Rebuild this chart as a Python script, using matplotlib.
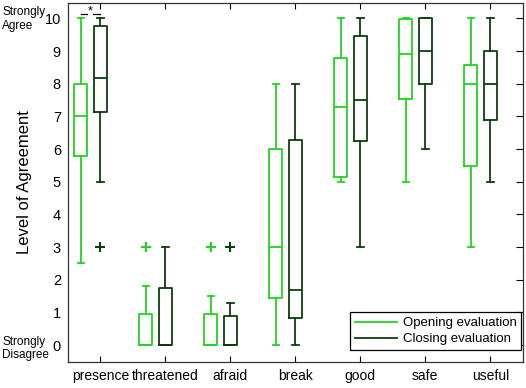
import matplotlib
matplotlib.use("Agg")
import matplotlib.pyplot as plt
from matplotlib.lines import Line2D

plt.rcParams['font.family'] = ['Liberation Sans', 'DejaVu Sans']

categories = ["presence", "threatened", "afraid", "break", "good", "safe", "useful"]

# Opening evaluation statistics
open_whislo = [2.5, 0, 0, 0, 5.0, 5.0, 3.0]
open_q1     = [5.78, 0, 0, 1.44, 5.13, 7.54, 5.48]
open_med    = [7.0, 0, 0, 3.0, 7.29, 8.9, 8.0]
open_q3     = [8.0, 0.95, 0.95, 6.0, 8.79, 9.97, 8.56]
open_whishi = [10, 1.8, 1.5, 8.0, 10, 10, 10]
open_fliers = [[], [3], [3], [], [], [], []]

# Closing evaluation statistics
close_whislo = [5.0, 0, 0, 0, 3.0, 6.0, 5.0]
close_q1     = [7.13, 0, 0, 0.83, 6.24, 8.0, 6.9]
close_med    = [8.19, 0, 0, 1.7, 7.5, 9.0, 8.0]
close_q3     = [9.77, 1.75, 0.88, 6.27, 9.47, 10, 9.0]
close_whishi = [10, 3.0, 1.3, 8.0, 10, 10, 10]
close_fliers = [[3], [], [3], [], [], [], []]

yticks = list(range(0, 11))
legend_labels = ["Opening evaluation", "Closing evaluation"]

c_open = "#22d322"
c_close = "#0d3f0d"

def make_stats(lo, q1, med, q3, hi, fl):
    return [dict(whislo=a, q1=b, med=c, q3=d, whishi=e, fliers=f)
            for a, b, c, d, e, f in zip(lo, q1, med, q3, hi, fl)]

fig = plt.figure(figsize=(5.26, 3.88), dpi=100)
ax = fig.add_axes([0.129, 0.067, 0.865, 0.925])

n = len(categories)
pos_close = [i + 1 for i in range(n)]
pos_open = [p - 0.3 for p in pos_close]

for stats, pos, col in [
    (make_stats(open_whislo, open_q1, open_med, open_q3, open_whishi, open_fliers), pos_open, c_open),
    (make_stats(close_whislo, close_q1, close_med, close_q3, close_whishi, close_fliers), pos_close, c_close),
]:
    ax.bxp(stats, positions=pos, widths=0.2, capwidths=0.1, showfliers=True,
           manage_ticks=False,
           boxprops=dict(color=col, linewidth=1.3),
           medianprops=dict(color=col, linewidth=1.3),
           whiskerprops=dict(color=col, linewidth=1.3),
           capprops=dict(color=col, linewidth=1.3),
           flierprops=dict(marker='+', markeredgecolor=col, markersize=7,
                           markeredgewidth=1.5, linestyle='none'))

# significance marker
ax.plot([pos_open[0], pos_close[0]], [10.13, 10.13], color='black', lw=0.9)
ax.text((pos_open[0] + pos_close[0]) / 2, 10.2, "*", ha='center', va='center',
        fontsize=9, bbox=dict(facecolor='white', edgecolor='none', pad=0.3))

ax.set_xlim(0.5, n + 0.5)
ax.set_ylim(-0.52, 10.47)
ax.set_xticks(pos_close)
ax.set_xticklabels(categories, fontsize=10)
ax.set_yticks(yticks)
ax.set_yticklabels([str(t) for t in yticks], fontsize=10.5)
ax.tick_params(axis='x', direction='in', length=4, top=True, pad=5)
ax.tick_params(axis='y', direction='in', length=0, right=False, pad=5)
# right side ticks only
ax2 = ax.secondary_yaxis('right')
ax2.set_yticks(yticks)
ax2.tick_params(direction='in', length=5, labelright=False)
for s in ax.spines.values():
    s.set_color('#333333')
    s.set_linewidth(0.9)
ax2.spines['right'].set_visible(False)

ax.set_ylabel("Level of Agreement", fontsize=12, labelpad=9)

fig.text(0.004, 0.985, "Strongly\nAgree", fontsize=8.5, ha='left', va='top', linespacing=1.2)
fig.text(0.004, 0.135, "Strongly\nDisagree", fontsize=8.5, ha='left', va='top', linespacing=1.2)

handles = [Line2D([0], [0], color=c_open, lw=1.3), Line2D([0], [0], color=c_close, lw=1.3)]
leg = ax.legend(handles, legend_labels, loc='lower right',
                bbox_to_anchor=(521 / 526, (388 - 350) / 388),
                bbox_transform=fig.transFigure, fontsize=9.5,
                fancybox=False, framealpha=1, edgecolor='black', handlelength=3.2,
                borderaxespad=0, labelspacing=0.3, handletextpad=0.4,
                borderpad=0.35)
leg.get_frame().set_linewidth(0.9)

fig.savefig("out.png", dpi=100)
